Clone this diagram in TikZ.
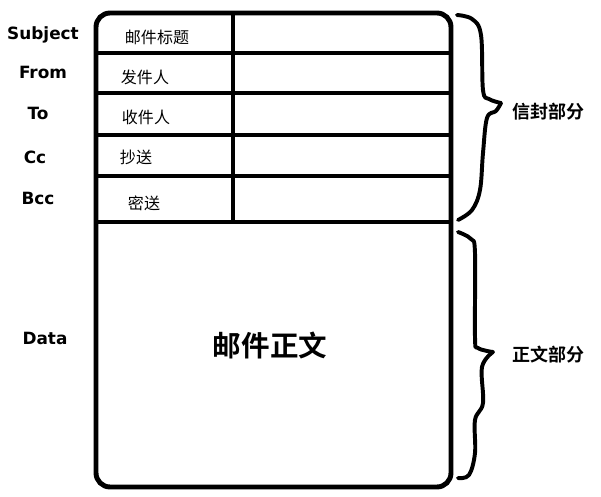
\documentclass[tikz,border=0pt]{standalone}
\usepackage{fontspec}
\setmainfont{DejaVu Sans}
\newfontfamily\cjk{Noto Sans CJK SC}[BoldFont={Noto Sans CJK SC Bold}]
\usetikzlibrary{positioning}

\tikzset{
  field/.style={font=\bfseries\fontsize{12}{14}\selectfont},
  cell/.style={font=\cjk\fontsize{11.4}{13}\selectfont},
  part/.style={font=\cjk\bfseries\fontsize{12.8}{15}\selectfont},
  frame/.style={line width=3.5pt},
  bracecurve/.style={line width=2.8pt, line cap=round, line join=round}
}

\begin{document}
\begin{tikzpicture}[x=0.025cm, y=-0.025cm]
\useasboundingbox (0,0) rectangle (601,497);

% Outer frame of the mail
\draw[frame, rounded corners=10pt] (96,13) rectangle (451,487);

% Header rows
\foreach \y in {53,93,135,176} \draw[frame] (96,\y) -- (451,\y);
\draw[frame] (96,222) -- (451,222);
\draw[frame] (233,13) -- (233,222);

% Field names
\node[field] (subject) at (43,35) {Subject};
\node[field] (from) at (43,72) {From};
\node[field] (to) at (38,113) {To};
\node[field] (cc) at (35,157) {Cc};
\node[field] (bcc) at (38,198) {Bcc};
\node[field] (data) at (45,338) {Data};

% Header cells
\node[cell] (title) at (157,37) {邮件标题};
\node[cell] (sender) at (145,77) {发件人};
\node[cell] (receiver) at (146,117) {收件人};
\node[cell] (copy) at (136,157) {抄送};
\node[cell] (blind) at (144,203) {密送};

% Body
\node[font=\cjk\bfseries\fontsize{20.3}{24}\selectfont] (body) at (270,346) {邮件正文};

% Braces
\draw[bracecurve] plot[smooth, tension=0.6] coordinates {(457,15) (472,19) (481,35) (483,90) (489,99) (501,103)};
\draw[bracecurve] plot[smooth, tension=0.6] coordinates {(501,103) (496,111) (487,118) (483,153) (480,190) (472,210) (458,220)};
\draw[bracecurve] plot[smooth, tension=0.6] coordinates {(458,232) (471,239) (475,253) (475,337) (478,348) (493,352)};
\draw[bracecurve] plot[smooth, tension=0.6] coordinates {(493,352) (482,367) (483,403) (475,420) (475,453) (469,475) (458,478)};

% Part labels
\node[part] (envelope) at (548,112) {信封部分};
\node[part] (content) at (548,355) {正文部分};
\end{tikzpicture}
\end{document}
